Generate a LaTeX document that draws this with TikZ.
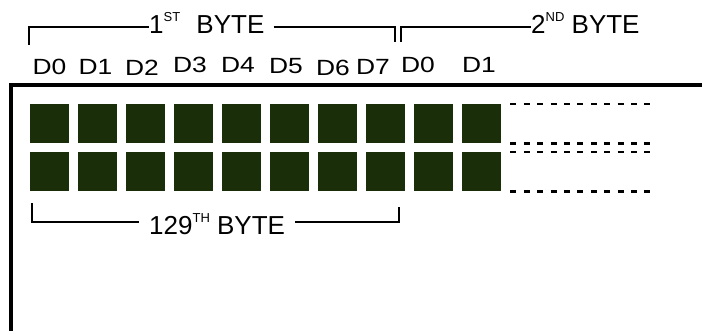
\documentclass[tikz,border=0pt]{standalone}
\usepackage{fontspec}
\setmainfont{Liberation Sans}
\newfontfamily\bitfont[FakeStretch=1.2]{Liberation Sans}
\usetikzlibrary{positioning}
\usetikzlibrary{calc}
\definecolor{pixelgreen}{RGB}{27,46,10}
\tikzstyle{pixel}=[rectangle,fill=pixelgreen,minimum size=39pt,inner sep=0pt,anchor=north west]
\tikzstyle{bitlabel}=[font=\bitfont\fontsize{22}{22}\selectfont,inner sep=0pt,anchor=base]
\tikzstyle{bytelabel}=[font=\fontsize{26}{26}\selectfont,inner sep=0pt,anchor=base west]
\tikzstyle{bracket}=[draw,line width=2pt]
\tikzstyle{frame}=[draw,line width=4.5pt]
\tikzstyle{rowedge}=[draw,line width=2.7pt,dash pattern=on 6pt off 7.4pt]
\newcommand{\ordsup}[1]{\raisebox{12pt}{\fontsize{13}{13}\selectfont #1}}

\begin{document}
\begin{tikzpicture}[x=1pt,y=-1pt]

  \useasboundingbox (0,0) rectangle (702,330);

  \def\dx{30};
  \def\u{48};

  % display frame
  \coordinate (framebottom) at (11,334);
  \coordinate (frameright) at (706,85);
  \draw[frame] (framebottom) |- (frameright);

  % pixels, two rows
  \foreach \col in {0,...,9}
     \foreach \row/\y in {1/104, 2/152}
          \node[pixel] (p\row\col) at (\col*\u+\dx, \y) {};

  \foreach \row in {1,2}
  {
     \draw[rowedge] (p\row9.north east) ++(9,0) -- ++(140,0);
     \draw[rowedge] (p\row9.south east) ++(9,0) -- ++(140,0);
  }

  % bit names
  \foreach \name/\x/\y/\label in {b10/49.5/74/D0, b11/95.5/74/D1, b12/142/75/D2, b13/190/72/D3, b14/238/72/D4, b15/286/73/D5, b16/333/75/D6, b17/373/74/D7, b20/418/72/D0, b21/479/72/D1}
          \node[bitlabel] (\name) at (\x, \y) {\label};

  % byte names
  \node[bytelabel] (byteone) at (149,33.3) {1\ordsup{ST}\hspace{9pt} BYTE};
  \node[bytelabel] (bytetwo) at (531,33.3) {2\ordsup{ND} BYTE};
  \node[bytelabel, inner xsep=10pt] (bytethree) at (139,234) {129\ordsup{TH} BYTE};

  \coordinate (toprail) at (0,26.7);
  \coordinate (botrail) at (0,222);
  \coordinate (onefoot) at (29,45);
  \coordinate (onedrop) at (395,42);
  \coordinate (twofoot) at (401,42);
  \coordinate (threeleft) at (32,203);
  \coordinate (threeright) at (399,207);

  \draw[bracket] (onefoot) |- (byteone.west |- toprail);
  \draw[bracket] (byteone.east |- toprail) ++(9,0) -| (onedrop);
  \draw[bracket] (twofoot) |- (bytetwo.west |- toprail);
  \draw[bracket] (threeleft) |- (bytethree.west |- botrail);
  \draw[bracket] (bytethree.east |- botrail) -| (threeright);

\end{tikzpicture}
\end{document}
